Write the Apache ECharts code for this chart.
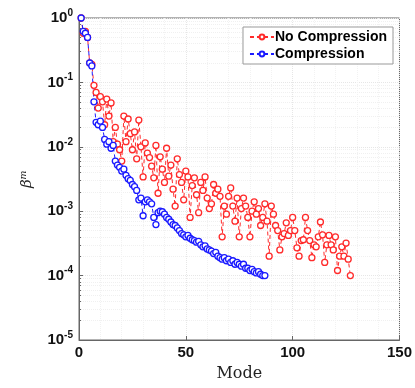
<!DOCTYPE html>
<html>
<head>
<meta charset="utf-8">
<script src="https://cdn.jsdelivr.net/npm/echarts@6/dist/echarts.min.js"></script>
<style>
html,body{margin:0;padding:0;background:#fff;}
#chart{width:415px;height:388px;}
</style>
</head>
<body>
<div id="chart"></div>
<script>
// Series names
const seriesNames = ['No Compression', 'Compression'];
// No Compression (modes 1..127)
const noCompression = [
 1.0, 0.58, 0.62, 0.5, 0.2, 0.19, 0.09, 0.07, 0.04, 0.06,
 0.05, 0.022, 0.055, 0.03, 0.048, 0.012, 0.02, 0.011, 0.009, 0.006,
 0.03, 0.012, 0.027, 0.016, 0.009, 0.017, 0.0065, 0.026, 0.01, 0.0034,
 0.0115, 0.008, 0.0068, 0.005, 0.0033, 0.0105, 0.0019, 0.007, 0.0045, 0.0028,
 0.0095, 0.0035, 0.0052, 0.0022, 0.0012, 0.0065, 0.0037, 0.0028, 0.0015, 0.0042,
 0.0034, 0.0008, 0.0025, 0.0033, 0.0018, 0.00095, 0.0028, 0.0021, 0.0034, 0.0016,
 0.0011, 0.0013, 0.0026, 0.0019, 0.0022, 0.0017, 0.0004, 0.0012, 0.0009, 0.0017,
 0.0023, 0.0012, 0.0007, 0.0016, 0.0004, 0.0011, 0.0016, 0.0012, 0.0008, 0.0004,
 0.0010, 0.0014, 0.0009, 0.0011, 0.0006, 0.0008, 0.0013, 0.0007, 0.0002, 0.0012,
 0.0009, 0.0006, 0.0005, 0.00025, 0.0004, 0.00045, 0.00066, 0.00042, 0.0005, 0.0008,
 0.0005, 0.00027, 0.0002, 0.00035, 0.00036, 0.0008, 0.0005, 0.00035, 0.00019, 0.0003,
 0.00028, 0.0004, 0.00068, 0.00043, 0.00016, 0.0003, 0.00042, 0.0003, 0.00025, 0.0004,
 0.00012, 0.0002, 0.00028, 0.0002, 0.00032, 0.00018, 0.0001
];
// Compression (modes 1..87)
const compression = [
 1.0, 0.62, 0.58, 0.5, 0.2, 0.18, 0.05, 0.024, 0.022, 0.025,
 0.02, 0.013, 0.011, 0.012, 0.0095, 0.0105, 0.006, 0.0052, 0.0048, 0.0042,
 0.0045, 0.0036, 0.0032, 0.003, 0.0026, 0.0024, 0.0021, 0.0015, 0.0016, 0.00085,
 0.0014, 0.0015, 0.0014, 0.0013, 0.0008, 0.00062, 0.00095, 0.001, 0.00098, 0.0009,
 0.0008, 0.00075, 0.00068, 0.00062, 0.0006, 0.00055, 0.0005, 0.00045, 0.00043, 0.0004,
 0.00042, 0.00038, 0.00036, 0.00035, 0.00033, 0.00034, 0.0003, 0.00028, 0.00029, 0.00026,
 0.00025, 0.00024, 0.00022, 0.00023, 0.0002, 0.00019, 0.00018, 0.00019, 0.00017, 0.00018,
 0.00016, 0.00017, 0.00015, 0.00016, 0.00015, 0.00014, 0.00015, 0.00013, 0.00013, 0.00012,
 0.000125, 0.000115, 0.00011, 0.000115, 0.000105, 0.0001, 0.0001
];
// Tick labels
const xTicks = [0, 50, 100, 150];
const yExponents = [0, -1, -2, -3, -4, -5];

const toPairs = arr => arr.map((v, i) => [i + 1, v]);

const chart = echarts.init(document.getElementById('chart'), null, {renderer: 'canvas'});
const axisGray = '#666';
const gridCol = '#e6e6e6';
const red = '#ff2a2a';
const blue = '#1a1aff';
chart.setOption({
  animation: false,
  backgroundColor: '#fff',
  grid: {left: 79, right: 15, top: 18, bottom: 48, show: true, borderColor: axisGray, borderWidth: 1, backgroundColor: 'transparent'},
  legend: {
    right: 22, top: 27,
    orient: 'vertical',
    backgroundColor: '#fff',
    borderColor: '#999', borderWidth: 1,
    padding: [3, 6, 3, 6],
    itemGap: 3,
    itemWidth: 24, itemHeight: 6,
    textStyle: {fontFamily: 'Liberation Sans', fontWeight: 'bold', fontSize: 14, color: '#000', padding: [0, 0, 0, -4]},
    data: seriesNames
  },
  xAxis: {
    type: 'value', min: xTicks[0], max: xTicks[xTicks.length - 1], interval: 50,
    name: 'Mode', nameLocation: 'middle', nameGap: 26,
    nameTextStyle: {fontFamily: 'DejaVu Serif', fontSize: 16, color: '#222'},
    axisLine: {show: true, lineStyle: {color: axisGray}},
    axisTick: {show: true, inside: true, length: 4, lineStyle: {color: axisGray}},
    minorTick: {show: false, splitNumber: 5},
    axisLabel: {fontFamily: 'Liberation Sans', fontWeight: 'bold', fontSize: 15, color: '#111', margin: 5},
    splitLine: {show: true, lineStyle: {color: gridCol, type: 'dotted'}},
    minorSplitLine: {show: true, lineStyle: {color: '#f2f2f2', type: 'dotted'}}
  },
  yAxis: {
    type: 'log', logBase: 10, min: 1e-5, max: 1,
    name: 'βᵐ', nameLocation: 'middle', nameGap: 44, nameRotate: 90,
    nameTextStyle: {fontFamily: 'DejaVu Serif', fontStyle: 'italic', fontSize: 15, color: '#222'},
    axisLine: {show: true, lineStyle: {color: axisGray}},
    axisTick: {show: true, inside: true, length: 4, lineStyle: {color: axisGray}},
    minorTick: {show: true, splitNumber: 9, length: 2, lineStyle: {color: axisGray}},
    splitLine: {show: true, lineStyle: {color: gridCol, type: 'dotted'}},
    minorSplitLine: {show: true, lineStyle: {color: '#f0f0f0', type: 'dotted'}},
    axisLabel: {
      margin: 6,
      formatter: function (v) {
        const e = Math.round(Math.log10(v));
        if (yExponents.indexOf(e) < 0) return '';
        return '{b|10}{s|' + (e === 0 ? '0' : '-' + (-e)) + '}';
      },
      rich: {
        b: {fontFamily: 'Liberation Sans', fontWeight: 'bold', fontSize: 15, color: '#111'},
        s: {fontFamily: 'Liberation Sans', fontWeight: 'bold', fontSize: 10, color: '#111', padding: [0, 0, 10, 0]}
      }
    }
  },
  series: [
    {
      name: seriesNames[0], type: 'line', data: toPairs(noCompression),
      symbol: 'circle', symbolSize: 6, showSymbol: true,
      itemStyle: {color: '#fff', borderColor: red, borderWidth: 1.3},
      lineStyle: {color: red, width: 1, type: [4, 3]},
      color: red
    },
    {
      name: seriesNames[1], type: 'line', data: toPairs(compression),
      symbol: 'circle', symbolSize: 6, showSymbol: true,
      itemStyle: {color: '#fff', borderColor: blue, borderWidth: 1.3},
      lineStyle: {color: blue, width: 1, type: [4, 3]},
      color: blue
    }
  ]
});
</script>
</body>
</html>
